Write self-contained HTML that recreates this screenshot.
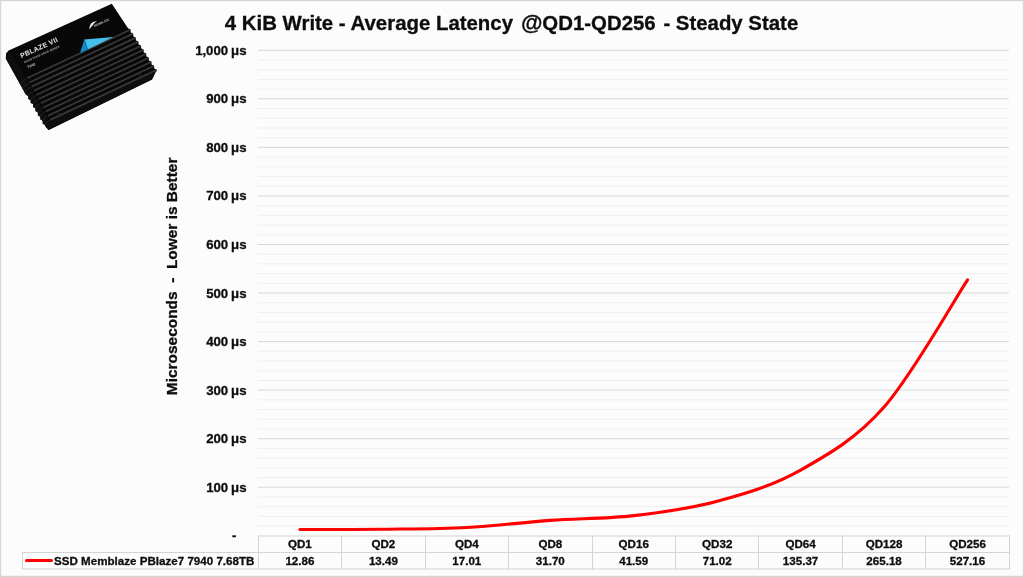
<!DOCTYPE html>
<html><head><meta charset="utf-8"><style>
html,body{margin:0;padding:0;background:#fcfcfc;}
svg{display:block;will-change:transform;}
text{font-family:"Liberation Sans",sans-serif;font-weight:bold;fill:#0d0d0d;stroke:#0d0d0d;stroke-width:0.3px;}
.title{font-size:20.4px;}
.yl{font-size:13.2px;word-spacing:-0.7px;}
.ax{font-size:15.45px;}
.tl{font-size:11.6px;}
</style></head><body>
<svg width="1024" height="577" viewBox="0 0 1024 577">
<rect x="0" y="0" width="1024" height="577" fill="#fcfcfc"/>
<line x1="258" x2="1009" y1="526.09" y2="526.09" stroke="#efefef" stroke-width="1"/><line x1="258" x2="1009" y1="516.38" y2="516.38" stroke="#efefef" stroke-width="1"/><line x1="258" x2="1009" y1="506.67" y2="506.67" stroke="#efefef" stroke-width="1"/><line x1="258" x2="1009" y1="496.96" y2="496.96" stroke="#efefef" stroke-width="1"/><line x1="258" x2="1009" y1="487.25" y2="487.25" stroke="#d8d8d8" stroke-width="1"/><line x1="258" x2="1009" y1="477.54" y2="477.54" stroke="#efefef" stroke-width="1"/><line x1="258" x2="1009" y1="467.83" y2="467.83" stroke="#efefef" stroke-width="1"/><line x1="258" x2="1009" y1="458.12" y2="458.12" stroke="#efefef" stroke-width="1"/><line x1="258" x2="1009" y1="448.41" y2="448.41" stroke="#efefef" stroke-width="1"/><line x1="258" x2="1009" y1="438.7" y2="438.7" stroke="#d8d8d8" stroke-width="1"/><line x1="258" x2="1009" y1="428.99" y2="428.99" stroke="#efefef" stroke-width="1"/><line x1="258" x2="1009" y1="419.28" y2="419.28" stroke="#efefef" stroke-width="1"/><line x1="258" x2="1009" y1="409.57" y2="409.57" stroke="#efefef" stroke-width="1"/><line x1="258" x2="1009" y1="399.86" y2="399.86" stroke="#efefef" stroke-width="1"/><line x1="258" x2="1009" y1="390.15" y2="390.15" stroke="#d8d8d8" stroke-width="1"/><line x1="258" x2="1009" y1="380.44" y2="380.44" stroke="#efefef" stroke-width="1"/><line x1="258" x2="1009" y1="370.73" y2="370.73" stroke="#efefef" stroke-width="1"/><line x1="258" x2="1009" y1="361.02" y2="361.02" stroke="#efefef" stroke-width="1"/><line x1="258" x2="1009" y1="351.31" y2="351.31" stroke="#efefef" stroke-width="1"/><line x1="258" x2="1009" y1="341.6" y2="341.6" stroke="#d8d8d8" stroke-width="1"/><line x1="258" x2="1009" y1="331.89" y2="331.89" stroke="#efefef" stroke-width="1"/><line x1="258" x2="1009" y1="322.18" y2="322.18" stroke="#efefef" stroke-width="1"/><line x1="258" x2="1009" y1="312.47" y2="312.47" stroke="#efefef" stroke-width="1"/><line x1="258" x2="1009" y1="302.76" y2="302.76" stroke="#efefef" stroke-width="1"/><line x1="258" x2="1009" y1="293.05" y2="293.05" stroke="#d8d8d8" stroke-width="1"/><line x1="258" x2="1009" y1="283.34" y2="283.34" stroke="#efefef" stroke-width="1"/><line x1="258" x2="1009" y1="273.63" y2="273.63" stroke="#efefef" stroke-width="1"/><line x1="258" x2="1009" y1="263.92" y2="263.92" stroke="#efefef" stroke-width="1"/><line x1="258" x2="1009" y1="254.21" y2="254.21" stroke="#efefef" stroke-width="1"/><line x1="258" x2="1009" y1="244.5" y2="244.5" stroke="#d8d8d8" stroke-width="1"/><line x1="258" x2="1009" y1="234.79" y2="234.79" stroke="#efefef" stroke-width="1"/><line x1="258" x2="1009" y1="225.08" y2="225.08" stroke="#efefef" stroke-width="1"/><line x1="258" x2="1009" y1="215.37" y2="215.37" stroke="#efefef" stroke-width="1"/><line x1="258" x2="1009" y1="205.66" y2="205.66" stroke="#efefef" stroke-width="1"/><line x1="258" x2="1009" y1="195.95" y2="195.95" stroke="#d8d8d8" stroke-width="1"/><line x1="258" x2="1009" y1="186.24" y2="186.24" stroke="#efefef" stroke-width="1"/><line x1="258" x2="1009" y1="176.53" y2="176.53" stroke="#efefef" stroke-width="1"/><line x1="258" x2="1009" y1="166.82" y2="166.82" stroke="#efefef" stroke-width="1"/><line x1="258" x2="1009" y1="157.11" y2="157.11" stroke="#efefef" stroke-width="1"/><line x1="258" x2="1009" y1="147.4" y2="147.4" stroke="#d8d8d8" stroke-width="1"/><line x1="258" x2="1009" y1="137.69" y2="137.69" stroke="#efefef" stroke-width="1"/><line x1="258" x2="1009" y1="127.98" y2="127.98" stroke="#efefef" stroke-width="1"/><line x1="258" x2="1009" y1="118.27" y2="118.27" stroke="#efefef" stroke-width="1"/><line x1="258" x2="1009" y1="108.56" y2="108.56" stroke="#efefef" stroke-width="1"/><line x1="258" x2="1009" y1="98.85" y2="98.85" stroke="#d8d8d8" stroke-width="1"/><line x1="258" x2="1009" y1="89.14" y2="89.14" stroke="#efefef" stroke-width="1"/><line x1="258" x2="1009" y1="79.43" y2="79.43" stroke="#efefef" stroke-width="1"/><line x1="258" x2="1009" y1="69.72" y2="69.72" stroke="#efefef" stroke-width="1"/><line x1="258" x2="1009" y1="60.01" y2="60.01" stroke="#efefef" stroke-width="1"/><line x1="258" x2="1009" y1="50.3" y2="50.3" stroke="#d8d8d8" stroke-width="1"/>
<line x1="258" x2="1010" y1="536" y2="536" stroke="#d4d4d4"/><line x1="22" x2="1010" y1="552.5" y2="552.5" stroke="#d4d4d4"/><line x1="22" x2="1010" y1="569" y2="569" stroke="#d4d4d4"/><line x1="22.5" x2="22.5" y1="552" y2="569.5" stroke="#d4d4d4"/><line x1="258.5" x2="258.5" y1="535.5" y2="569.5" stroke="#d4d4d4"/><line x1="341.5" x2="341.5" y1="535.5" y2="569.5" stroke="#d4d4d4"/><line x1="425.5" x2="425.5" y1="535.5" y2="569.5" stroke="#d4d4d4"/><line x1="508.5" x2="508.5" y1="535.5" y2="569.5" stroke="#d4d4d4"/><line x1="592.5" x2="592.5" y1="535.5" y2="569.5" stroke="#d4d4d4"/><line x1="675.5" x2="675.5" y1="535.5" y2="569.5" stroke="#d4d4d4"/><line x1="758.5" x2="758.5" y1="535.5" y2="569.5" stroke="#d4d4d4"/><line x1="842.5" x2="842.5" y1="535.5" y2="569.5" stroke="#d4d4d4"/><line x1="925.5" x2="925.5" y1="535.5" y2="569.5" stroke="#d4d4d4"/><line x1="1009.5" x2="1009.5" y1="535.5" y2="569.5" stroke="#d4d4d4"/><text x="299.9" y="548" text-anchor="middle" class="tl">QD1</text><text x="299.9" y="564.8" text-anchor="middle" class="tl">12.86</text><text x="383.4" y="548" text-anchor="middle" class="tl">QD2</text><text x="383.4" y="564.8" text-anchor="middle" class="tl">13.49</text><text x="466.8" y="548" text-anchor="middle" class="tl">QD4</text><text x="466.8" y="564.8" text-anchor="middle" class="tl">17.01</text><text x="550.3" y="548" text-anchor="middle" class="tl">QD8</text><text x="550.3" y="564.8" text-anchor="middle" class="tl">31.70</text><text x="633.7" y="548" text-anchor="middle" class="tl">QD16</text><text x="633.7" y="564.8" text-anchor="middle" class="tl">41.59</text><text x="717.2" y="548" text-anchor="middle" class="tl">QD32</text><text x="717.2" y="564.8" text-anchor="middle" class="tl">71.02</text><text x="800.6" y="548" text-anchor="middle" class="tl">QD64</text><text x="800.6" y="564.8" text-anchor="middle" class="tl">135.37</text><text x="884.1" y="548" text-anchor="middle" class="tl">QD128</text><text x="884.1" y="564.8" text-anchor="middle" class="tl">265.18</text><text x="967.5" y="548" text-anchor="middle" class="tl">QD256</text><text x="967.5" y="564.8" text-anchor="middle" class="tl">527.16</text><line x1="26.5" x2="51.5" y1="560.5" y2="560.5" stroke="#ff0000" stroke-width="3" stroke-linecap="round"/><text x="54" y="564.8" class="tl">SSD Memblaze PBlaze7 7940 7.68TB</text>
<path d="M299.93,529.56 C313.83,529.51 355.56,529.59 383.38,529.25 C411.19,528.91 439.01,529.02 466.82,527.54 C494.64,526.07 522.46,522.40 550.27,520.41 C578.09,518.42 605.91,518.79 633.73,515.61 C661.54,512.43 689.36,508.91 717.17,501.32 C744.99,493.73 772.81,485.79 800.62,470.08 C828.44,454.37 856.26,438.76 884.08,407.06 C911.89,375.35 953.62,301.06 967.53,279.86" fill="none" stroke="#ff0000" stroke-width="3.1" stroke-linecap="round" stroke-linejoin="round"/>
<text x="246.5" y="491.7" text-anchor="end" class="yl">100 μs</text><text x="246.5" y="443.2" text-anchor="end" class="yl">200 μs</text><text x="246.5" y="394.6" text-anchor="end" class="yl">300 μs</text><text x="246.5" y="346.1" text-anchor="end" class="yl">400 μs</text><text x="246.5" y="297.5" text-anchor="end" class="yl">500 μs</text><text x="246.5" y="249.0" text-anchor="end" class="yl">600 μs</text><text x="246.5" y="200.4" text-anchor="end" class="yl">700 μs</text><text x="246.5" y="151.9" text-anchor="end" class="yl">800 μs</text><text x="246.5" y="103.3" text-anchor="end" class="yl">900 μs</text><text x="246.5" y="54.8" text-anchor="end" class="yl">1,000 μs</text><text x="236.5" y="540.3" text-anchor="end" class="yl">-</text>
<text x="224.8" y="29.5" class="title" xml:space="preserve">4 KiB Write - Average Latency <tspan dx="2.2" style="font-size:22px">@</tspan><tspan dx="0">QD1-QD256</tspan><tspan dx="-3.6">  - Steady State</tspan></text>
<text transform="translate(176.8,395.2) rotate(-90)" class="ax" xml:space="preserve">Microseconds  -  Lower is Better</text>
<defs><clipPath id="sc"><polygon points="8.70,50.60 111.80,3.70 128.03,28.20 130.60,29.62 130.64,32.22 133.21,33.64 133.25,36.25 135.83,37.66 135.87,40.27 138.44,41.68 138.48,44.29 141.05,45.71 141.09,48.31 143.66,49.73 143.70,52.34 146.27,53.75 146.31,56.36 148.89,57.77 148.93,60.38 151.50,61.80 151.54,64.40 154.11,65.82 154.15,68.43 156.72,69.84 156.76,72.45 156.20,70.80 152.00,79.60 48.60,130.00 45.50,126.50 45.15,124.90 42.68,123.44 42.74,120.79 40.27,119.32 40.33,116.67 37.86,115.20 37.93,112.55 35.46,111.09 35.52,108.43 33.05,106.97 33.11,104.31 30.64,102.85 30.70,100.20 28.23,98.73 28.29,96.08 25.82,94.61 5.80,58.60 6.20,53.50"/></clipPath></defs>
<polygon points="8.70,50.60 111.80,3.70 128.03,28.20 130.60,29.62 130.64,32.22 133.21,33.64 133.25,36.25 135.83,37.66 135.87,40.27 138.44,41.68 138.48,44.29 141.05,45.71 141.09,48.31 143.66,49.73 143.70,52.34 146.27,53.75 146.31,56.36 148.89,57.77 148.93,60.38 151.50,61.80 151.54,64.40 154.11,65.82 154.15,68.43 156.72,69.84 156.76,72.45 156.20,70.80 152.00,79.60 48.60,130.00 45.50,126.50 45.15,124.90 42.68,123.44 42.74,120.79 40.27,119.32 40.33,116.67 37.86,115.20 37.93,112.55 35.46,111.09 35.52,108.43 33.05,106.97 33.11,104.31 30.64,102.85 30.70,100.20 28.23,98.73 28.29,96.08 25.82,94.61 5.80,58.60 6.20,53.50" fill="#080808"/>
<g clip-path="url(#sc)">
<polygon points="0.00,58.60 8.70,50.60 27.20,81.00 48.60,120.50 152.50,73.00 160.00,70.80 160.00,90.00 48.60,140.00 0.00,140.00" fill="#0e0e0e"/>
<line x1="26.96" y1="78.33" x2="130.70" y2="29.57" stroke="#3b3737" stroke-width="1.7"/>
<line x1="10.96" y1="91.35" x2="25.96" y2="78.80" stroke="#1c1c1c" stroke-width="1.3"/>
<line x1="29.30" y1="82.48" x2="133.31" y2="33.59" stroke="#3b3737" stroke-width="1.7"/>
<line x1="13.30" y1="95.50" x2="28.30" y2="82.95" stroke="#1c1c1c" stroke-width="1.3"/>
<line x1="31.63" y1="86.63" x2="135.92" y2="37.62" stroke="#3b3737" stroke-width="1.7"/>
<line x1="15.63" y1="99.65" x2="30.63" y2="87.10" stroke="#1c1c1c" stroke-width="1.3"/>
<line x1="33.96" y1="90.79" x2="138.53" y2="41.64" stroke="#3b3737" stroke-width="1.7"/>
<line x1="17.96" y1="103.81" x2="32.96" y2="91.26" stroke="#1c1c1c" stroke-width="1.3"/>
<line x1="36.30" y1="94.94" x2="141.15" y2="45.66" stroke="#3b3737" stroke-width="1.7"/>
<line x1="20.30" y1="107.96" x2="35.30" y2="95.41" stroke="#1c1c1c" stroke-width="1.3"/>
<line x1="38.63" y1="99.09" x2="143.76" y2="49.68" stroke="#3b3737" stroke-width="1.7"/>
<line x1="22.63" y1="112.11" x2="37.63" y2="99.56" stroke="#1c1c1c" stroke-width="1.3"/>
<line x1="40.96" y1="103.25" x2="146.37" y2="53.71" stroke="#3b3737" stroke-width="1.7"/>
<line x1="24.96" y1="116.27" x2="39.96" y2="103.72" stroke="#1c1c1c" stroke-width="1.3"/>
<line x1="43.30" y1="107.40" x2="148.98" y2="57.73" stroke="#3b3737" stroke-width="1.7"/>
<line x1="27.30" y1="120.42" x2="42.30" y2="107.87" stroke="#1c1c1c" stroke-width="1.3"/>
<line x1="45.63" y1="111.55" x2="151.59" y2="61.75" stroke="#3b3737" stroke-width="1.7"/>
<line x1="29.63" y1="124.57" x2="44.63" y2="112.02" stroke="#1c1c1c" stroke-width="1.3"/>
<line x1="47.96" y1="115.71" x2="154.20" y2="65.77" stroke="#3b3737" stroke-width="1.7"/>
<line x1="31.96" y1="128.73" x2="46.96" y2="116.18" stroke="#1c1c1c" stroke-width="1.3"/>
<line x1="50.30" y1="119.86" x2="156.82" y2="69.80" stroke="#3b3737" stroke-width="1.7"/>
<line x1="34.30" y1="132.88" x2="49.30" y2="120.33" stroke="#1c1c1c" stroke-width="1.3"/>
</g>
<polygon points="80.00,53.00 84.30,39.60 87.60,49.50" fill="#0e8cd2"/>
<polygon points="84.30,39.60 113.40,37.10 87.60,49.50" fill="#43bfeb"/>
<line x1="84.3" y1="39.6" x2="87.6" y2="49.5" stroke="#0b4a70" stroke-width="0.5"/>
<text transform="translate(21.6,58.2) rotate(-24.5)" style="font-size:6.9px;fill:#e6e6e6;font-weight:bold;letter-spacing:0.25px;stroke:none">PBLAZE VII</text>
<text transform="translate(24.6,63.2) rotate(-24.5)" style="font-size:2.8px;fill:#a8a8a8;font-weight:bold;stroke:none">SOLID STATE DRIVE SERIES</text>
<text transform="translate(28.0,68.6) rotate(-24.5)" style="font-size:3.8px;fill:#c0c0c0;font-weight:bold;stroke:none">7940</text>
<text transform="translate(94.5,27) rotate(-24.5)" style="font-size:2.9px;fill:#c8c8c8;font-weight:bold;stroke:none">MEMBLAZE</text>
<path d="M89.5,29.5 Q89,24 93,22 L97,21 Q94,23 93,25 Q91.5,26 89.5,29.5Z" fill="#e6e6e6"/>
<circle cx="59.2" cy="114.4" r="1.3" fill="none" stroke="#333" stroke-width="0.6"/>
<circle cx="139.6" cy="74.7" r="1.3" fill="none" stroke="#333" stroke-width="0.6"/>
<rect x="0.5" y="0.5" width="1023" height="576" fill="none" stroke="#d6d6d6" stroke-width="1"/>
<rect x="1.5" y="1.5" width="1021" height="574" fill="none" stroke="#f3f3f3" stroke-width="1"/>
</svg>
</body></html>
